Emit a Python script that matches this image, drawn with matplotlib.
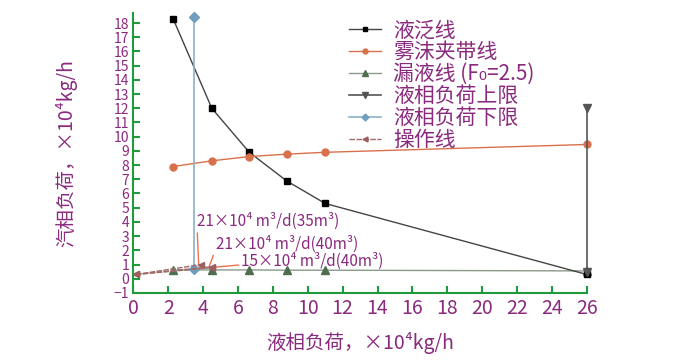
import matplotlib
matplotlib.use('Agg')
import matplotlib.pyplot as plt

plt.rcParams['font.family'] = ['Noto Sans CJK SC', 'DejaVu Sans']

# 液泛线
flood_x = [2.3, 4.5, 6.65, 8.8, 11.0, 26.0]
flood_y = [18.25, 12.0, 8.9, 6.88, 5.3, 0.3]
# 雾沫夹带线
entrain_x = [2.3, 4.5, 6.65, 8.8, 11.0, 26.0]
entrain_y = [7.9, 8.3, 8.6, 8.77, 8.9, 9.45]
# 漏液线
weep_x = [2.3, 4.5, 6.65, 8.8, 11.0, 26.0]
weep_y = [0.62, 0.62, 0.62, 0.6, 0.6, 0.55]
# 液相负荷上限 / 下限
upper_x = [26.0, 26.0]
upper_y = [0.5, 12.0]
lower_x = [3.5, 3.5]
lower_y = [0.65, 18.45]
# 操作线 (起点, 终点)
op_x0, op_y0 = 0.15, 0.3
op_end_x = [3.9, 4.5, 4.5]
op_end_y = [1.0, 0.85, 0.78]
op_labels = ['21×10⁴ m³/d(35m³)', '21×10⁴ m³/d(40m³)', '15×10⁴ m³/d(40m³)']
op_text_pos = [(3.65, 3.7), (4.75, 2.1), (6.2, 0.9)]

purple = '#8a2a7f'
green = '#1f9a3c'

fig = plt.figure(figsize=(6.8, 3.63), dpi=100)
ax = fig.add_axes([0.196, 0.193, 0.667, 0.771])

ax.plot(flood_x, flood_y, color='#444444', lw=1, marker='s', ms=5,
        mfc='black', mec='black', label='液泛线', clip_on=False, zorder=4)
ax.plot(entrain_x, entrain_y, color='#d9704c', lw=1, marker='o', ms=5,
        label='雾沫夹带线', clip_on=False, zorder=4)
ax.plot(weep_x, weep_y, color='#8a9a8a', lw=1, marker='^', ms=6,
        mfc='#4f6e4f', mec='#4f6e4f', label='漏液线 (F₀=2.5)', clip_on=False, zorder=3)
ax.plot(upper_x, upper_y, color='#555555', lw=1.2, marker='v', ms=6,
        label='液相负荷上限', clip_on=False, zorder=4)
ax.plot(lower_x, lower_y, color='#8ab0c8', lw=1.2, marker='D', ms=5,
        mfc='#6f9fbf', mec='#6f9fbf', label='液相负荷下限', clip_on=False, zorder=4)
for i in range(len(op_end_x)):
    ax.plot([op_x0, op_end_x[i]], [op_y0, op_end_y[i]], color='#a06a6a', lw=1,
            ls='--', dashes=(4, 1), marker='<', ms=5, mfc='#9a5e5e', mec='#9a5e5e',
            label='操作线' if i == 0 else None, clip_on=False, zorder=5)

for i in range(len(op_labels)):
    ax.annotate(op_labels[i], xy=(op_end_x[i] - 0.15, op_end_y[i]), xytext=op_text_pos[i],
                fontsize=11, color=purple,
                arrowprops=dict(arrowstyle='-', color='#f07050', lw=1,
                                shrinkA=0, shrinkB=0, relpos=(0.0, 0.3)))

ax.set_xlim(0, 26)
ax.set_ylim(-0.75, 18.7)
ax.set_xticks(range(0, 27, 2))
ax.set_yticks(range(-1, 19))

for s in ['top', 'right']:
    ax.spines[s].set_visible(False)
for s in ['left', 'bottom']:
    ax.spines[s].set_color(green)
    ax.spines[s].set_linewidth(1.5)
ax.tick_params(axis='both', direction='in', color=green, width=1.5, length=5,
               labelcolor=purple)
ax.tick_params(axis='x', labelsize=14, pad=4)
ax.tick_params(axis='y', labelsize=10, pad=3)

ax.set_xlabel('液相负荷，×10⁴kg/h', fontsize=14, color=purple, labelpad=9)
ax.set_ylabel('汽相负荷，×10⁴kg/h', fontsize=14, color=purple, labelpad=26)

leg = ax.legend(loc='upper left', bbox_to_anchor=(0.435, 1.045), frameon=False,
                fontsize=15, labelspacing=0.0, handlelength=1.5, handletextpad=0.6,
                markerscale=0.7)
for t in leg.get_texts():
    t.set_color(purple)

fig.savefig('out.png', dpi=100)
